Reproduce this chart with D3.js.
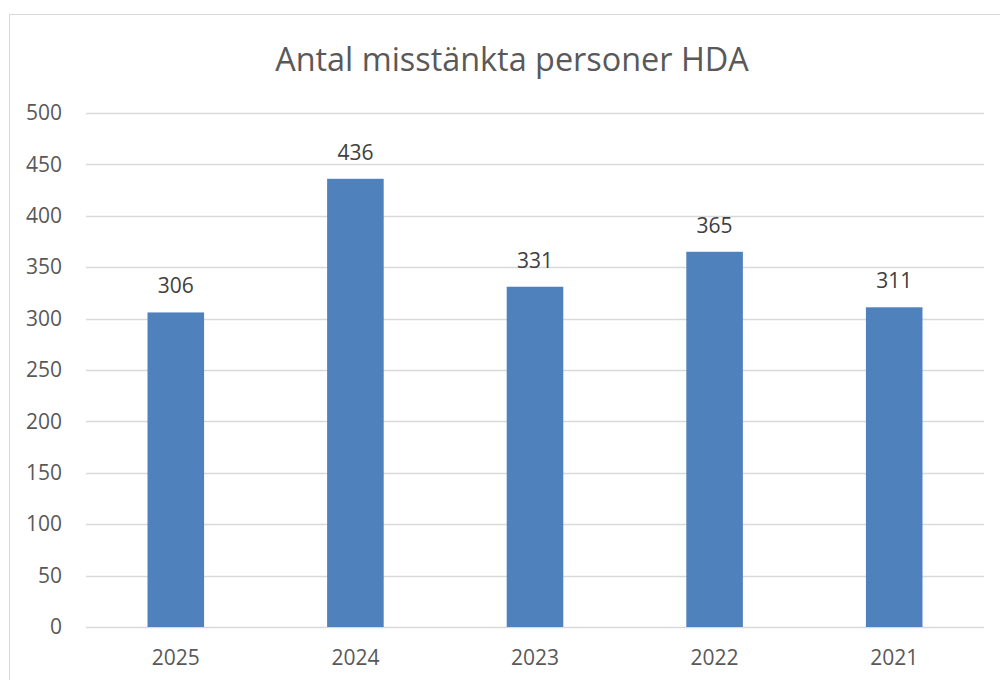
<!DOCTYPE html>
<html><head><meta charset="utf-8">
<script src="https://cdn.jsdelivr.net/npm/d3@7"></script>
<style>body{margin:0;background:#fff;} svg{display:block;}</style>
</head><body>
<svg id="c" width="1000" height="680"></svg>
<script>
const categories = ["2025","2024","2023","2022","2021"];
const values = [306,436,331,365,311];
const yTicks = [0,50,100,150,200,250,300,350,400,450,500];
const title = "Antal misstänkta personer HDA";

(function(){
const svg = d3.select("#c");
const font = "'Open Sans', sans-serif";
const textColor = "#595959";
const fs = 21;

// chart border
svg.append("rect").attr("x",9.5).attr("y",14.5).attr("width",1000).attr("height",700)
  .attr("fill","#fff").attr("stroke","#d9d9d9").attr("stroke-width",1);

const pLeft = 86, pRight = 984, pTop = 113, pBottom = 627;
const x = d3.scaleBand().domain(categories).range([pLeft,pRight]).paddingInner(0.685).paddingOuter(0.3425);
const y = d3.scaleLinear().domain([0,500]).range([pBottom,pTop]);

// gridlines
svg.append("g").selectAll("line").data(yTicks).join("line")
  .attr("x1",pLeft).attr("x2",pRight)
  .attr("y1",d=>Math.round(y(d))+0.5).attr("y2",d=>Math.round(y(d))+0.5)
  .attr("stroke","#d9d9d9").attr("stroke-width",1.5);

// y axis labels
const yAxis = d3.axisLeft(y).tickValues(yTicks).tickSize(0).tickPadding(0);
const gy = svg.append("g").attr("transform",`translate(62,0)`).call(yAxis);
gy.select(".domain").remove();
gy.selectAll("text").attr("font-family",font).attr("font-size",fs).attr("fill",textColor);

// bars
svg.append("g").selectAll("rect").data(values).join("rect")
  .attr("x",(d,i)=>x(categories[i]))
  .attr("width",x.bandwidth())
  .attr("y",d=>y(d))
  .attr("height",d=>y(0)-y(d))
  .attr("fill","#4f81bd");

// value labels
svg.append("g").selectAll("text").data(values).join("text")
  .attr("x",(d,i)=>x(categories[i])+x.bandwidth()/2)
  .attr("y",d=>y(d)-19)
  .attr("text-anchor","middle")
  .attr("font-family",font).attr("font-size",fs).attr("fill","#404040")
  .text(d=>d);

// x axis labels
const xAxis = d3.axisBottom(x).tickSize(0).tickPadding(0);
const gx = svg.append("g").attr("transform",`translate(0,${pBottom})`).call(xAxis);
gx.select(".domain").remove();
gx.selectAll("text").attr("font-family",font).attr("font-size",fs).attr("fill",textColor)
  .attr("y",38).attr("dy",0);

// title
svg.append("text").attr("x",512).attr("y",71).attr("text-anchor","middle")
  .attr("font-family",font).attr("font-weight",400).attr("font-size",32.4).attr("fill",textColor)
  .text(title);
})();
</script>
</body></html>
